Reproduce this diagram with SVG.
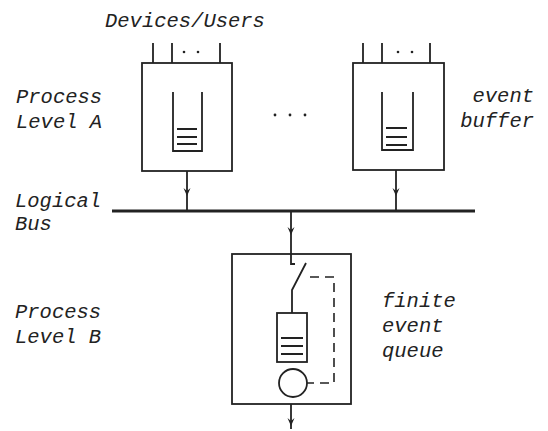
<svg xmlns="http://www.w3.org/2000/svg" width="548" height="431" viewBox="0 0 548 431">
<defs>
<style>
.t{font-family:"Liberation Mono","DejaVu Sans Mono",monospace;font-style:italic;font-size:20.5px;fill:#222}
.s{fill:none;stroke:#222;stroke-width:1.8}
.d{fill:none;stroke:#222;stroke-width:1.6;stroke-dasharray:9,6}
.f{fill:#222}
</style>
<marker id="ah" viewBox="0 0 10 8" refX="9" refY="4" markerWidth="10" markerHeight="8" markerUnits="userSpaceOnUse" orient="auto">
<path d="M1 0.5 L9 4 L1 7.5 L4 4 Z" fill="#222"/>
</marker>
</defs>
<rect width="548" height="431" fill="#fff"/>
<text class="t" x="105" y="27">Devices/Users</text>
<text class="t" x="16" y="103">Process</text>
<text class="t" x="16" y="128">Level A</text>
<text class="t" x="534" y="102" text-anchor="end">event</text>
<text class="t" x="534" y="127" text-anchor="end">buffer</text>
<text class="t" x="15" y="207">Logical</text>
<text class="t" x="15" y="230">Bus</text>
<text class="t" x="15" y="318">Process</text>
<text class="t" x="15" y="343">Level B</text>
<text class="t" x="382" y="307">finite</text>
<text class="t" x="382" y="332">event</text>
<text class="t" x="382" y="357">queue</text>
<g id="procA1">
<rect class="s" x="142" y="63" width="90" height="108"/>
<path class="s" d="M153 43V63M172 43V63M220 43V63"/>
<circle class="f" cx="184" cy="52" r="1.3"/><circle class="f" cx="198" cy="52" r="1.3"/>
<path class="s" d="M173 92V151H202V92"/>
<path class="s" d="M177 129H197M177 137H197M177 144H197"/>
</g>
<g id="procA2">
<rect class="s" x="353" y="63" width="91" height="107"/>
<path class="s" d="M363 43V63M382 43V63M430 43V63"/>
<circle class="f" cx="398" cy="52" r="1.3"/><circle class="f" cx="412" cy="52" r="1.3"/>
<path class="s" d="M382 92V150H413V92"/>
<path class="s" d="M386 128H407M386 137H407M386 145H407"/>
</g>
<g id="ellipsis">
<circle class="f" cx="275" cy="115" r="1.4"/><circle class="f" cx="290" cy="115" r="1.4"/><circle class="f" cx="305" cy="115" r="1.4"/>
</g>
<g id="bus">
<path d="M112 211H475" stroke="#222" stroke-width="3"/>
</g>
<g id="procB">
<rect class="s" x="232" y="254" width="119" height="150"/>
<path class="s" d="M291 254V264H295"/>
<path class="s" d="M306 263L292 290V313"/>
<rect class="s" x="277" y="313" width="30" height="49"/>
<path class="s" d="M281 338H303M281 346H303M281 354H303"/>
<circle class="s" cx="293" cy="383" r="14"/>
<path class="d" d="M310 277H334V383H307"/>
</g>
<g id="connectors">
<path class="s" d="M187 171V196V211" marker-mid="url(#ah)"/>
<path class="s" d="M396 170V196V211" marker-mid="url(#ah)"/>
<path class="s" d="M291 211V235V254" marker-mid="url(#ah)"/>
<path class="s" d="M291 404V426V429" marker-mid="url(#ah)"/>
</g>
</svg>
